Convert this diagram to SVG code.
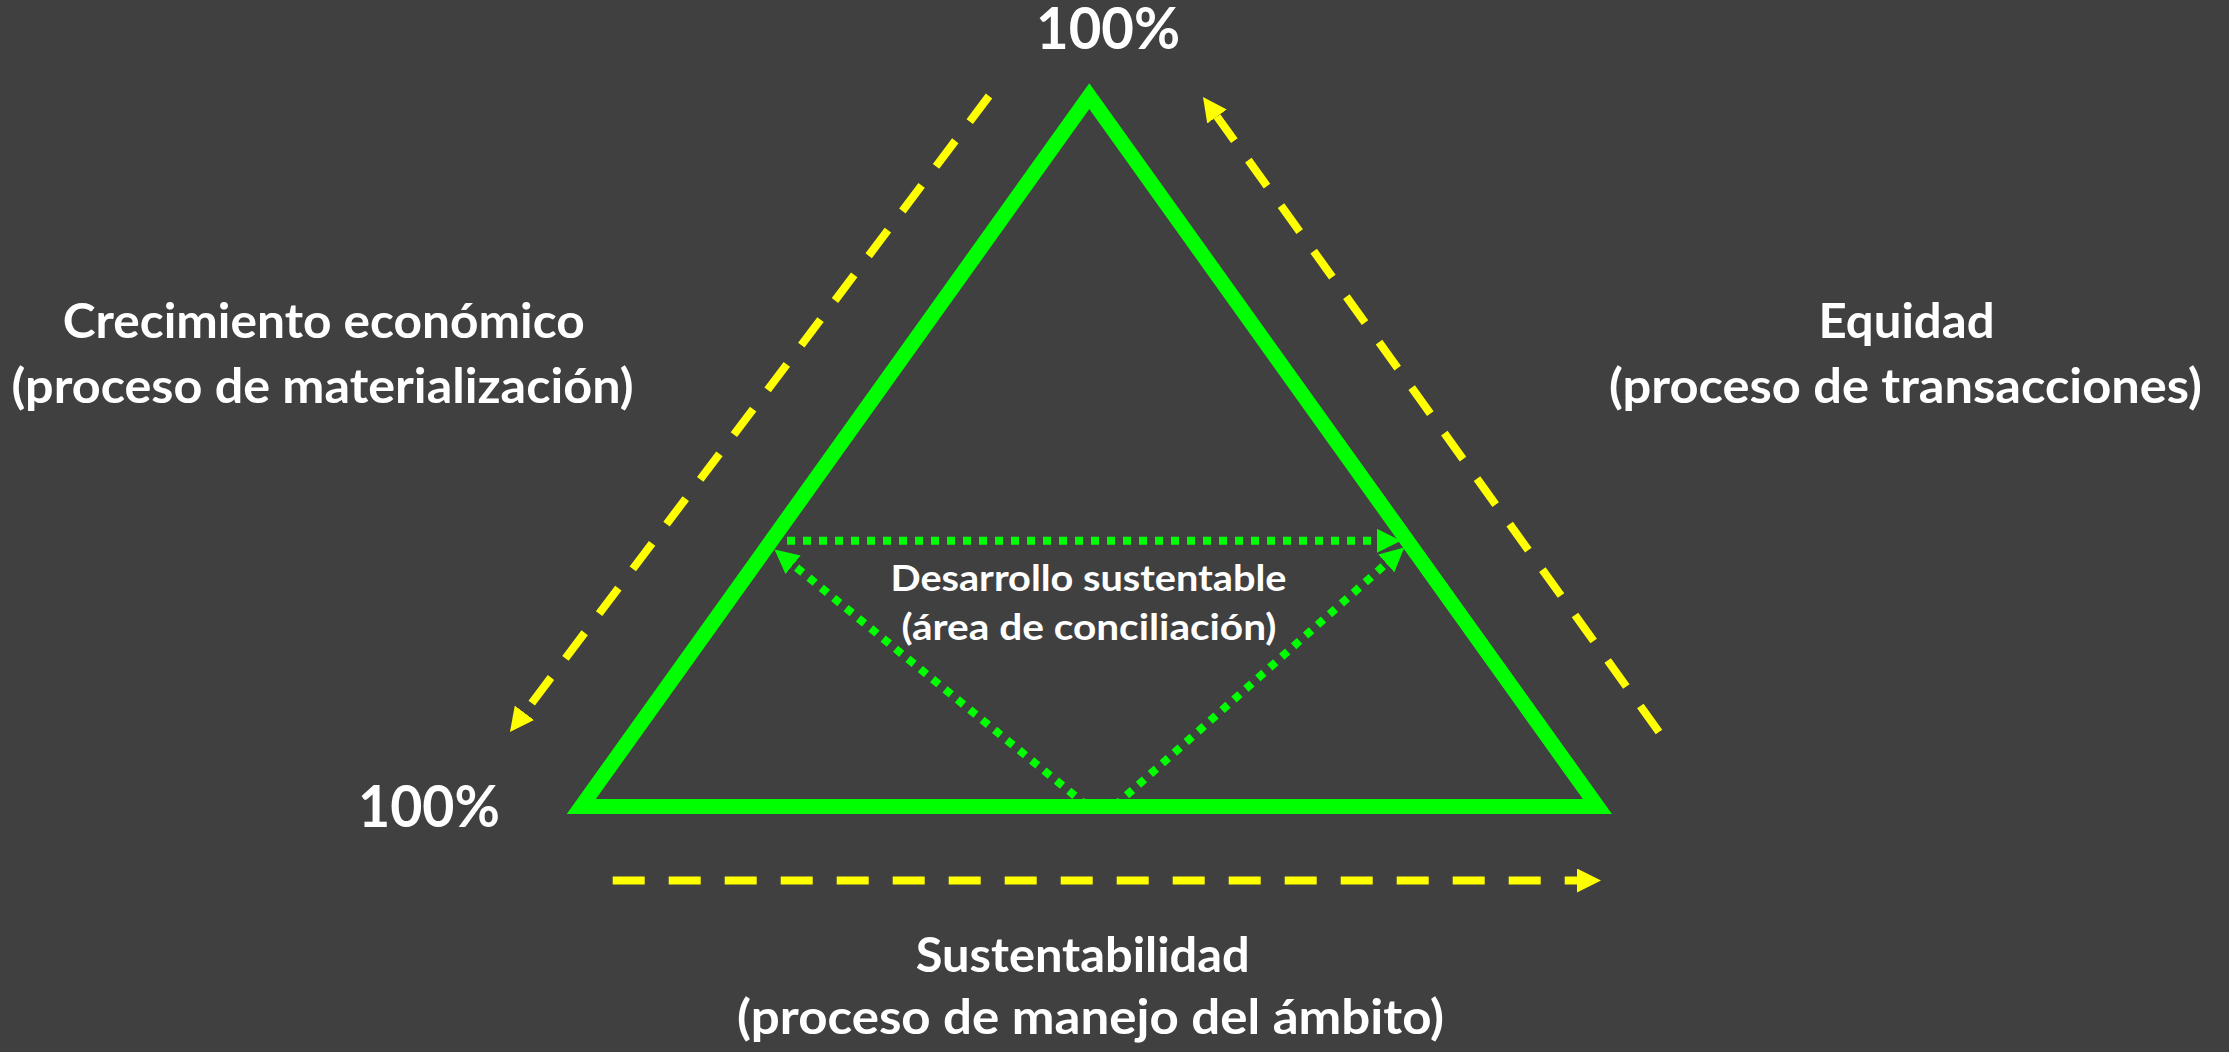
<svg xmlns="http://www.w3.org/2000/svg" width="2229" height="1052" viewBox="0 0 2229 1052">
  <style>
    .lbl { font-family: Lato, "Liberation Sans", sans-serif; font-weight: 700; fill: #FFFFFF; text-anchor: middle; }
    .big { font-size: 48.5px; }
    .pct { font-size: 56.5px; }
    .small { font-size: 35.5px; }
    .yel { fill: none; stroke: #FFFF00; stroke-width: 8; stroke-dasharray: 32 24; }
    .dot { fill: none; stroke: #00FF00; stroke-width: 8; stroke-dasharray: 8 8; }
    .tri { fill: none; stroke: #00FF00; stroke-width: 15; stroke-linejoin: miter; }
  </style>
  <defs>
    <marker id="ahY" markerUnits="userSpaceOnUse" markerWidth="24" markerHeight="24" viewBox="0 0 24 24" refX="0" refY="12" orient="auto">
      <path d="M0,0 L24,12 L0,24 Z" fill="#FFFF00"/>
    </marker>
    <marker id="ahG" markerUnits="userSpaceOnUse" markerWidth="24" markerHeight="24" viewBox="0 0 24 24" refX="0" refY="12" orient="auto">
      <path d="M0,0 L24,12 L0,24 Z" fill="#00FF00"/>
    </marker>
  </defs>
  <rect x="0" y="0" width="2229" height="1052" fill="#404040"/>

  <g id="connectors">
    <path class="yel" d="M989,96 L524.4,712.8" marker-end="url(#ahY)"/>
    <path class="yel" d="M1659,732 L1217,116.5" marker-end="url(#ahY)"/>
    <path class="yel" d="M612.7,880.5 L1577,880.5" marker-end="url(#ahY)"/>
    <path class="dot" d="M787,540.8 L1377,540.8" marker-end="url(#ahG)"/>
    <path class="dot" d="M1087.3,806 L793.1,564.7" marker-end="url(#ahG)"/>
    <path class="dot" d="M1114.6,806 L1386.3,563.5" marker-end="url(#ahG)"/>
  </g>

  <g id="triangle">
    <polygon class="tri" points="1089.3,96.2 581.3,806.5 1597.4,806.5"/>
  </g>

  <g id="top-100">
    <text class="lbl pct" x="1108" y="49.3" textLength="144" lengthAdjust="spacingAndGlyphs">100%</text>
  </g>
  <g id="left-100">
    <text class="lbl pct" x="429" y="826.7" textLength="142" lengthAdjust="spacingAndGlyphs">100%</text>
  </g>
  <g id="crecimiento">
    <text class="lbl big" x="323.7" y="338.3" textLength="522" lengthAdjust="spacingAndGlyphs">Crecimiento económico</text>
    <text class="lbl big" x="322.5" y="403.3" textLength="622" lengthAdjust="spacingAndGlyphs">(proceso de materialización)</text>
  </g>
  <g id="equidad">
    <text class="lbl big" x="1906.5" y="338.3" textLength="176" lengthAdjust="spacingAndGlyphs">Equidad</text>
    <text class="lbl big" x="1905.4" y="403.3" textLength="593" lengthAdjust="spacingAndGlyphs">(proceso de transacciones)</text>
  </g>
  <g id="sustentabilidad">
    <text class="lbl big" x="1082.7" y="971.7" textLength="334" lengthAdjust="spacingAndGlyphs">Sustentabilidad</text>
    <text class="lbl big" x="1090.5" y="1034" textLength="707" lengthAdjust="spacingAndGlyphs">(proceso de manejo del ámbito)</text>
  </g>
  <g id="desarrollo">
    <text class="lbl small" x="1088.5" y="590.7" textLength="396" lengthAdjust="spacingAndGlyphs">Desarrollo sustentable</text>
    <text class="lbl small" x="1089" y="640" textLength="375" lengthAdjust="spacingAndGlyphs">(área de conciliación)</text>
  </g>
</svg>
